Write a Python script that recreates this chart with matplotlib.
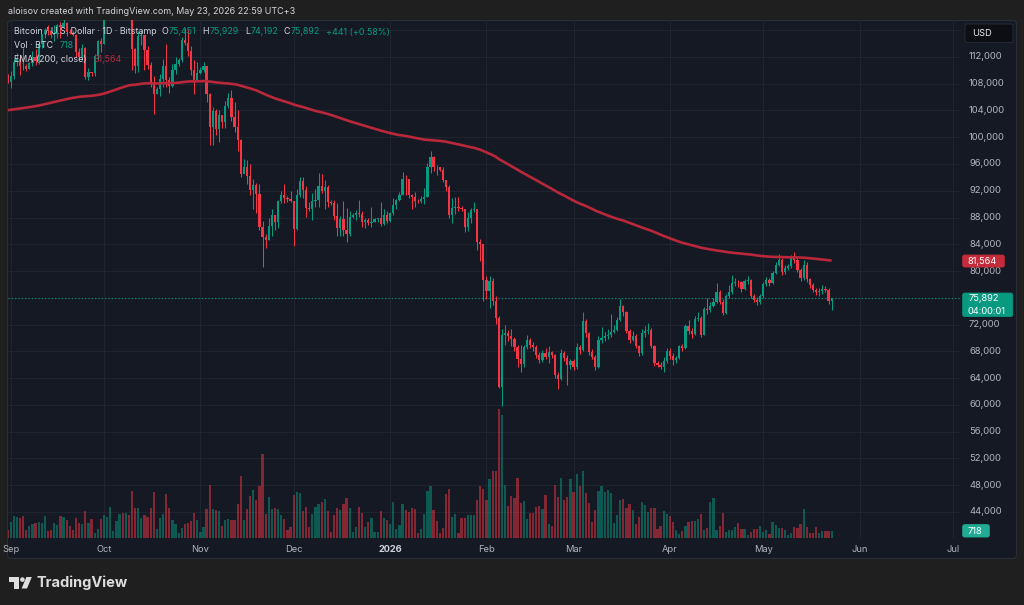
import numpy as np
import pandas as pd
import matplotlib as mpl
mpl.use('Agg')
from matplotlib import pyplot as plt
import matplotlib.dates as mdates
from matplotlib.patches import FancyBboxPatch, Rectangle, Polygon, Circle

mpl.rcParams['font.family'] = ['Inter', 'DejaVu Sans']

W, H = 1024, 605

##########################################################################################
# data: BTC/USD daily (Bitstamp), thousand USD; open = previous close
first_open_k = 108.8

aug_close = [108.2]
aug_high = [109.5]
aug_low = [108.1]

sep_close = [109.2, 111.2, 111.7, 110.7, 110.6, 110.2, 111.1, 112.0, 111.4, 113.9,
             115.4, 116.1, 115.9, 115.3, 115.4, 116.8, 116.5, 117.1, 115.7, 115.6,
             115.3, 112.7, 112.0, 113.3, 109.0, 109.7, 109.6, 112.1, 114.4, 114.0]
sep_high = [109.9, 111.7, 112.6, 112.2, 113.4, 110.9, 111.3, 112.9, 113.2, 114.3,
            115.5, 116.3, 116.8, 116.1, 116.8, 117.0, 117.3, 117.9, 117.3, 116.2,
            115.9, 115.4, 113.3, 114.0, 113.5, 110.3, 109.8, 112.4, 114.5, 114.8]
sep_low = [107.3, 108.7, 110.6, 109.3, 110.0, 109.9, 110.2, 110.7, 110.8, 110.9,
           113.4, 114.8, 115.3, 114.9, 114.4, 114.8, 114.8, 116.5, 115.2, 115.5,
           115.2, 112.0, 111.5, 111.6, 108.7, 108.6, 109.1, 109.2, 111.6, 112.7]

oct_close = [118.6, 120.6, 122.3, 122.4, 123.5, 124.8, 121.4, 123.3, 121.7, 113.2,
             110.7, 115.2, 115.3, 113.1, 110.8, 108.2, 106.5, 107.2, 108.7, 110.6,
             108.5, 107.6, 110.1, 111.0, 111.6, 114.6, 114.1, 112.9, 110.1, 108.3, 109.6]
oct_high = [118.7, 121.0, 123.9, 122.9, 125.7, 126.2, 125.0, 124.2, 123.7, 122.5,
            113.4, 115.9, 116.0, 115.0, 113.6, 111.3, 109.2, 107.5, 109.4, 111.7,
            114.0, 109.0, 111.0, 112.0, 111.9, 115.0, 116.4, 116.1, 113.6, 111.6, 111.2]
oct_low = [113.9, 118.2, 119.4, 121.6, 122.0, 123.1, 120.6, 121.1, 119.7, 110.0,
           109.6, 109.8, 113.8, 110.0, 110.2, 107.5, 103.5, 106.4, 106.1, 107.5,
           107.5, 106.6, 107.5, 109.5, 110.6, 111.3, 113.8, 112.2, 109.3, 106.4, 108.7]

nov_close = [110.1, 110.6, 106.5, 101.6, 103.9, 101.3, 103.3, 102.3, 104.7, 105.9,
             103.0, 101.6, 99.6, 94.5, 95.5, 94.2, 92.1, 92.9, 91.5, 86.6,
             85.1, 84.7, 86.8, 88.3, 87.3, 90.5, 91.3, 90.9, 90.8, 90.4]
nov_high = [110.5, 111.2, 110.7, 106.6, 104.5, 104.2, 104.0, 103.4, 105.4, 106.6,
            107.0, 105.3, 104.1, 99.8, 96.8, 96.6, 96.0, 93.8, 93.2, 93.0,
            87.5, 85.6, 88.0, 89.2, 88.4, 90.6, 91.9, 93.0, 91.2, 91.9]
nov_low = [109.4, 109.7, 105.3, 98.9, 98.9, 100.3, 99.3, 101.4, 101.4, 104.4,
           102.5, 100.8, 98.0, 94.0, 94.6, 93.0, 91.3, 89.2, 88.6, 86.2,
           80.6, 83.5, 84.7, 85.3, 86.2, 86.4, 90.1, 90.2, 90.3, 90.3]

dec_close = [86.3, 91.3, 93.5, 92.1, 89.4, 89.3, 90.4, 90.6, 92.7, 92.0,
             92.5, 90.3, 90.2, 88.2, 86.4, 87.8, 86.2, 85.5, 88.1, 88.3,
             88.6, 88.5, 87.4, 87.6, 87.2, 87.3, 87.8, 87.9, 87.1, 88.4, 87.5]
dec_high = [90.4, 92.3, 94.1, 94.0, 92.7, 90.3, 91.7, 92.3, 94.6, 94.5,
            93.6, 92.8, 90.6, 90.6, 90.1, 88.2, 90.4, 89.4, 89.0, 88.6,
            89.1, 90.6, 88.9, 87.9, 88.0, 89.5, 87.9, 88.0, 90.3, 89.3, 89.0]
dec_low = [83.8, 86.2, 91.0, 90.9, 88.1, 88.9, 87.7, 89.6, 89.6, 91.6,
           89.3, 89.5, 89.8, 87.6, 85.2, 85.3, 85.3, 84.4, 85.2, 88.0,
           87.6, 88.1, 86.6, 86.4, 86.9, 86.6, 87.3, 87.4, 86.8, 86.9, 87.2]

jan_close = [88.7, 89.9, 90.6, 91.4, 93.8, 93.7, 91.3, 91.0, 90.5, 90.4,
             90.8, 91.1, 95.5, 97.0, 95.6, 95.5, 95.1, 93.6, 92.5, 88.3,
             89.4, 89.5, 89.4, 89.2, 86.6, 87.9, 89.1, 89.3, 84.3, 84.0, 78.6]
jan_high = [88.8, 90.9, 90.7, 91.8, 94.8, 94.4, 93.7, 91.5, 91.8, 90.8,
            91.2, 92.4, 96.2, 97.9, 97.2, 95.8, 95.5, 95.5, 93.3, 92.8,
            90.9, 91.0, 91.0, 89.7, 89.2, 88.8, 89.4, 90.3, 89.3, 84.8, 84.1]
jan_low = [87.4, 88.3, 89.3, 90.5, 91.4, 91.3, 90.9, 89.3, 89.6, 90.1,
           90.2, 90.0, 91.0, 94.6, 95.0, 94.3, 94.9, 93.3, 91.9, 87.9,
           87.2, 88.5, 88.9, 88.9, 85.8, 86.0, 87.2, 88.8, 83.2, 81.5, 75.5]

feb_close = [77.0, 78.5, 75.5, 72.9, 62.7, 70.4, 70.7, 70.3, 69.9, 68.6,
             66.9, 66.1, 68.6, 69.7, 68.9, 68.6, 67.4, 66.7, 67.8, 67.2,
             67.9, 67.4, 64.4, 63.9, 67.8, 67.0, 65.9, 66.6]
feb_high = [79.3, 79.3, 79.0, 76.3, 73.2, 71.4, 72.0, 71.2, 71.3, 70.2,
            68.9, 68.9, 69.0, 70.4, 70.0, 69.4, 68.9, 67.9, 68.2, 68.5,
            68.8, 68.1, 67.6, 64.9, 68.3, 68.0, 67.4, 66.9]
feb_low = [75.8, 74.4, 74.9, 72.1, 62.5, 59.8, 69.0, 69.6, 68.8, 68.0,
           65.7, 64.9, 65.6, 68.4, 68.5, 68.0, 67.0, 66.2, 66.4, 66.8,
           66.2, 67.0, 64.0, 62.4, 63.7, 66.6, 63.0, 65.4]

mar_close = [65.7, 68.6, 68.2, 72.5, 70.7, 67.9, 67.2, 65.7, 69.7, 70.0,
             70.3, 70.5, 70.9, 71.2, 72.7, 74.7, 73.8, 71.1, 69.7, 70.3,
             68.8, 67.7, 70.7, 71.0, 71.2, 68.8, 66.2, 66.0, 65.7, 66.6, 68.0]
mar_high = [66.8, 69.3, 69.0, 73.9, 72.8, 70.9, 68.3, 67.4, 70.3, 71.6,
            70.9, 71.3, 73.6, 72.0, 73.1, 75.8, 74.9, 74.0, 71.4, 71.0,
            70.6, 69.0, 71.4, 71.8, 72.3, 71.5, 69.0, 66.6, 66.4, 67.1, 68.5]
mar_low = [65.2, 65.4, 67.6, 68.0, 70.1, 67.5, 66.9, 65.2, 65.5, 69.2,
           69.5, 69.9, 70.2, 70.7, 71.0, 72.5, 73.3, 70.8, 69.2, 69.5,
           68.5, 67.3, 67.4, 70.2, 70.6, 68.5, 65.8, 65.6, 65.3, 64.9, 66.3]

apr_close = [67.3, 66.7, 67.0, 68.8, 68.5, 71.8, 71.0, 70.6, 72.8, 73.0,
             70.5, 74.3, 74.1, 74.7, 75.4, 76.9, 75.4, 73.7, 76.2, 76.9,
             78.2, 78.4, 78.3, 77.3, 78.5, 78.6, 76.3, 75.7, 75.4, 76.2]
apr_high = [68.5, 67.8, 67.3, 69.0, 69.1, 72.1, 72.7, 71.5, 73.2, 73.9,
            73.2, 74.6, 75.9, 75.3, 76.0, 78.2, 77.1, 75.8, 76.5, 77.9,
            79.4, 78.9, 78.7, 78.5, 78.8, 79.2, 78.8, 76.6, 76.1, 76.5]
apr_low = [66.9, 65.9, 66.3, 66.8, 68.0, 68.3, 70.6, 70.0, 70.4, 72.5,
           70.2, 70.4, 73.6, 73.8, 74.6, 75.2, 75.0, 73.4, 73.5, 76.0,
           76.6, 77.8, 77.6, 76.9, 77.1, 78.1, 76.0, 75.3, 74.9, 75.1]

may_close = [78.1, 78.7, 78.2, 79.7, 80.9, 81.6, 79.9, 80.5, 80.7, 82.1,
             81.6, 80.2, 78.9, 80.9, 78.8, 77.9, 77.2, 76.8, 77.0, 77.3,
             77.2, 75.451, 75.892]
may_high = [78.4, 79.1, 78.9, 80.0, 81.3, 82.6, 81.9, 80.9, 81.1, 82.4,
            82.9, 81.9, 80.5, 81.6, 81.4, 79.0, 78.2, 77.5, 77.4, 77.9,
            77.7, 77.5, 75.929]
may_low = [76.0, 77.8, 77.7, 78.0, 79.5, 80.7, 79.4, 79.6, 80.2, 80.5,
           81.2, 79.8, 78.5, 78.6, 78.4, 77.5, 76.9, 76.4, 76.3, 76.6,
           76.8, 75.1, 74.192]

# daily volume, BTC (Aug 31 .. May 23)
volume_btc = [
    800, 1600, 2200, 2100, 2000, 2200, 800, 1200, 1400, 1500, 1600, 1500, 2200, 700, 800,
    1500, 1300, 2200, 2100, 1800, 1200, 800, 2000, 1500, 1400, 2700, 1500, 1900, 500, 900,
    1900, 2300, 2100, 3100, 700, 1700, 2400, 2500, 2500, 2300, 4700, 3000, 3000, 2000, 2300,
    2100, 3000, 4600, 900, 2000, 2400, 4400, 3000, 1800, 1400, 500, 1000, 1400, 1500,
    1700, 2500, 1800, 600, 1100, 2900, 5300, 2900, 2800, 2700, 1200, 1800, 1900, 1800, 1800,
    3400, 6200, 1800, 2900, 4200, 4800, 3800, 5200, 8400, 2400, 4100, 2900, 3000, 2900, 2300,
    1900, 800, 1100, 4300, 4600, 4500, 2700, 3100, 1100, 2400, 3100, 3400, 3600, 3900, 2700,
    600, 2300, 3000, 2800, 3400, 4000, 3000, 600, 1100, 3100, 2500, 1100, 1600, 2000, 600,
    600, 2700, 2000, 1800, 1400, 3600, 900, 1300, 3400, 2800, 2600, 3000, 2900, 500, 900,
    2400, 4700, 5200, 2800, 1700, 500, 1000, 4400, 4900, 2100, 2400, 500, 2000, 2000, 2300,
    2300, 2300, 3800, 5200, 4900, 3800, 5900, 6700, 6700, 12900, 12300, 5300,
    3200, 4200, 4000, 6000, 3500, 3700, 1900, 2500, 2500, 3100, 3200, 2900, 4300, 1400, 1200,
    5300, 4100, 6000, 3800, 4100, 5900, 4600, 6400, 5200, 6700, 4500, 3500, 1600, 2800, 4700,
    5200, 4600, 4800, 4500, 1500, 2300, 3800, 3900, 3000, 3400, 2800, 1400, 2100, 3600, 3300,
    2600, 3000, 3000, 900, 1200, 2700, 2400, 2200, 1600, 800, 400, 700, 1200, 1600, 1700,
    1700, 1900, 2400, 800, 1000, 3600, 4000, 800, 1200, 2500, 600, 800, 800, 1100, 1500,
    900, 900, 300, 600, 900, 900, 1200, 600, 800,
    400, 1600, 1300, 1000, 1000, 800, 300, 500, 1100, 1000, 1400, 2900, 1100, 500, 500,
    1100, 500, 700, 700, 700, 718]

ema_length = 200
ema_seed = 104050          # EMA(200) value at the left edge of the chart
ema_reported = 81564       # value shown in the legend / price scale
countdown = '04:00:01'

month_ticks = ['2025-09-01', '2025-10-01', '2025-11-01', '2025-12-01', '2026-01-01',
               '2026-02-01', '2026-03-01', '2026-04-01', '2026-05-01', '2026-06-01',
               '2026-07-01']
month_labels = ['Sep', 'Oct', 'Nov', 'Dec', '2026', 'Feb', 'Mar', 'Apr', 'May', 'Jun', 'Jul']
grid_prices = list(range(44000, 116001, 4000))

##########################################################################################
close = np.array(aug_close + sep_close + oct_close + nov_close + dec_close +
                 jan_close + feb_close + mar_close + apr_close + may_close) * 1000.0
high = np.array(aug_high + sep_high + oct_high + nov_high + dec_high +
                jan_high + feb_high + mar_high + apr_high + may_high) * 1000.0
low = np.array(aug_low + sep_low + oct_low + nov_low + dec_low +
               jan_low + feb_low + mar_low + apr_low + may_low) * 1000.0
opens = np.concatenate([[first_open_k * 1000.0], close[:-1]])
vol = np.array(volume_btc, dtype=float)
n = min(len(close), len(vol))
close, high, low, opens, vol = close[:n], high[:n], low[:n], opens[:n], vol[:n]

dates = pd.date_range('2025-08-31', periods=n, freq='D')
xd = mdates.date2num(dates.to_pydatetime())

alpha = 2.0 / (ema_length + 1)
ema = np.empty(n)
ema[0] = ema_seed
for i in range(1, n):
    ema[i] = alpha * close[i] + (1.0 - alpha) * ema[i - 1]

##########################################################################################
# colours
BG_OUTER = '#1f1f1f'
PANEL = '#151924'
BORDER = '#2a2e39'
GRID = '#212531'
TXT = '#d1d4dc'
AXTXT = '#b2b5be'
UP = '#089981'
DOWN = '#f23645'
EMA_C = '#b8283a'

fig = plt.figure(figsize=(W / 100, H / 100), dpi=100)
fig.patch.set_facecolor(BG_OUTER)

def fig_rect(l, t, r, b):
    return [l / W, 1 - b / H, (r - l) / W, (b - t) / H]

bg = fig.add_axes([0, 0, 1, 1], zorder=0)
bg.set_xlim(0, W)
bg.set_ylim(H, 0)
bg.axis('off')
bg.add_patch(FancyBboxPatch((7.5, 20.5), 1009, 538,
                            boxstyle='round,pad=0,rounding_size=4',
                            fc=PANEL, ec=BORDER, lw=0.8))

rect = fig_rect(8, 20, 961, 538)
axv = fig.add_axes(rect, zorder=1)
ax = fig.add_axes(rect, zorder=2, sharex=axv)
for a in (axv, ax):
    a.set_facecolor('none')
    for s in a.spines.values():
        s.set_visible(False)
    a.tick_params(left=False, bottom=False, labelleft=False, labelbottom=False)

sep1 = mdates.date2num(pd.Timestamp('2025-09-01').to_pydatetime())
ax.set_xlim(sep1 - 0.87, sep1 + 305.6)
ax.set_ylim(40080, 117530)
axv.set_ylim(0, 51800)

# grid (behind everything)
x0, x1 = ax.get_xlim()
for p in grid_prices:
    axv.plot([x0, x1], [p, p], color=GRID, lw=0.7, transform=ax.transData, zorder=0)
for m in month_ticks:
    axv.axvline(mdates.date2num(pd.Timestamp(m).to_pydatetime()), color=GRID, lw=0.7, zorder=0)

up = close >= opens
cols = np.where(up, UP, DOWN)

# volume
axv.bar(xd, vol, width=0.72, color=cols, alpha=0.5, lw=0, zorder=1)

# candles
ax.vlines(xd, low, high, colors=cols, lw=0.75, zorder=2)
body = np.maximum(np.abs(close - opens), 90)
ax.bar(xd, body, bottom=np.minimum(opens, close), width=0.72, color=cols, lw=0, zorder=3)
ax.plot(xd, ema, color=EMA_C, lw=1.9, zorder=4, solid_capstyle='butt')
ax.axhline(close[-1], color=UP, lw=0.8, ls=(0, (1, 2)), zorder=1)

##########################################################################################
# overlay: texts, tags, logo (pixel coordinates, y downwards)
ov = fig.add_axes([0, 0, 1, 1], zorder=5)
ov.set_xlim(0, W)
ov.set_ylim(H, 0)
ov.axis('off')

def py_price(p):
    return H - ax.transData.transform((xd[0], p))[1]

def py_vol(v):
    return H - axv.transData.transform((xd[0], v))[1]

def px_date(d):
    return ax.transData.transform((d, ax.get_ylim()[0]))[0]

ov.text(8, 12, 'aloisov created with TradingView.com, May 23, 2026 22:59 UTC+3',
        color=TXT, fontsize=6.45, va='center', ha='left')

renderer = fig.canvas.get_renderer()

def chain(x, y, parts, size):
    for s, c, gap in parts:
        x += gap
        t = ov.text(x, y, s, color=c, fontsize=size, va='center', ha='left')
        x += t.get_window_extent(renderer).width

f0 = lambda v: f'{v:,.0f}'
chg = close[-1] - close[-2]
pct = chg / close[-2] * 100
chain(14, 32, [('Bitcoin / U.S. Dollar · 1D · Bitstamp', TXT, 0),
               ('O', TXT, 5), (f0(opens[-1]), UP, 0.5),
               ('H', TXT, 6), (f0(high[-1]), UP, 0.5),
               ('L', TXT, 6), (f0(low[-1]), UP, 0.5),
               ('C', TXT, 6), (f0(close[-1]), UP, 0.5),
               (f'{chg:+,.0f} ({pct:+.2f}%)', UP, 6)], 6.4)
chain(14, 45.5, [('Vol · BTC', TXT, 0), (f0(vol[-1]), UP, 6)], 6.4)
chain(14, 59, [('EMA (200, close)', TXT, 0), (f0(ema_reported), EMA_C, 6.5)], 6.4)

# time axis
clip = Rectangle((8, 0), W, H, transform=ov.transData)
for m, lab in zip(month_ticks, month_labels):
    xp = px_date(mdates.date2num(pd.Timestamp(m).to_pydatetime()))
    bold = lab.isdigit()
    t = ov.text(xp, 549, lab, color=TXT if bold else AXTXT, fontsize=6.7,
                fontweight='bold' if bold else 'normal', ha='center', va='center')
    t.set_clip_path(clip)

# tags on the price scale
yu = 33.3
ye = py_price(ema_reported)
yc = py_price(close[-1])
yv = py_vol(vol[-1])
covered = [(24, 42.5), (ye - 5.5, ye + 6.5), (yc - 5.4, yc + 18)]

# price scale labels (those hidden under a tag are left out, as in TradingView)
for p in grid_prices:
    yp = py_price(p)
    if any(a < yp < b for a, b in covered):
        continue
    ov.text(969, yp, f'{p:,}', color=AXTXT, fontsize=6.8, ha='left', va='center')

def tag(x, y, w, h, fc, ec=None):
    ov.add_patch(FancyBboxPatch((x, y), w, h, boxstyle='round,pad=0,rounding_size=2',
                                fc=fc, ec=ec if ec else fc, lw=0.6, zorder=6))

tag(965, 24, 48, 18.5, '#0c0e14', BORDER)
ov.text(972, yu, 'USD', color='#e6e8ee', fontsize=6.7, ha='left', va='center', zorder=7)

tag(962.7, ye - 5.5, 41.6, 12, '#c42b3b')
ov.text(968, ye + 0.5, f0(ema_reported), color='white', fontsize=6.7,
        ha='left', va='center', zorder=7)

tag(962.7, yc - 5.4, 50, 23.4, UP)
ov.text(968, yc + 0.4, f0(close[-1]), color='white', fontsize=6.7,
        ha='left', va='center', zorder=7)
ov.text(968, yc + 12.6, countdown, color='white', fontsize=6.7,
        ha='left', va='center', zorder=7)

tag(962.7, yv - 6.2, 26.6, 12.4, '#22ab94')
ov.text(967.5, yv + 0.2, f0(vol[-1]), color='white', fontsize=6.7,
        ha='left', va='center', zorder=7)

# TradingView logo
LOGO = '#dedede'
ov.add_patch(Polygon([(8.5, 577), (19.3, 577), (19.3, 588.5), (14.3, 588.5),
                      (14.3, 581.5), (8.5, 581.5)], closed=True, fc=LOGO, ec='none'))
ov.add_patch(Circle((22.4, 579.6), 2.3, fc=LOGO, ec='none'))
ov.add_patch(Polygon([(26.4, 577), (31.8, 577), (27.0, 588.5), (21.6, 588.5)],
                     closed=True, fc=LOGO, ec='none'))
ov.text(36.5, 583, 'TradingView', color=LOGO, fontsize=10.5, fontweight='bold',
        ha='left', va='center')

fig.savefig('out.png', dpi=100, facecolor=fig.get_facecolor())
